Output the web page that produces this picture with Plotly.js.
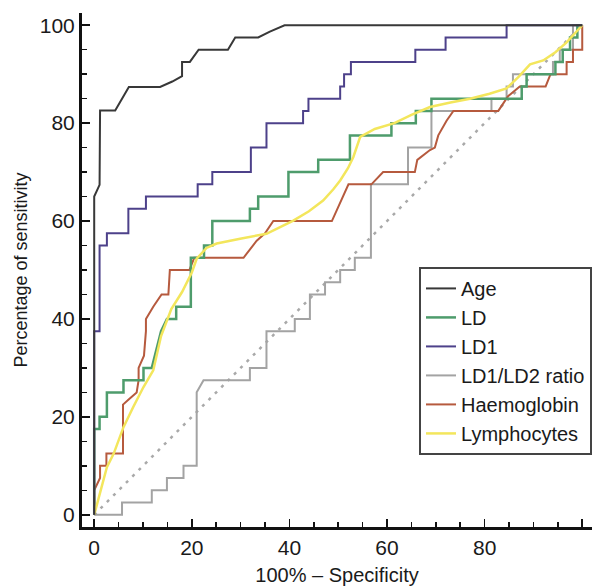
<!DOCTYPE html>
<html>
<head>
<meta charset="utf-8">
<script src="https://cdn.plot.ly/plotly-3.0.1.min.js"></script>
<style>html,body{margin:0;padding:0;background:#fff;}#chart{width:598px;height:586px;}</style>
</head>
<body>
<div id="chart"></div>
<script>
// Reference diagonal
const diagX = [0, 100];
const diagY = [0, 100];

// Age
const ageX = [0, 0, 1.1, 1.2, 4.3, 7.1, 13.5, 16, 18, 18, 19.6, 21.4, 27.4, 28.9, 33.6, 36, 39, 100];
const ageY = [0, 65, 67.4, 82.6, 82.6, 87.4, 87.4, 88.5, 89.6, 92.5, 92.5, 95, 95, 97.5, 97.5, 98.7, 100, 100];

// LD
const ldX = [0, 0, 1.1, 1.1, 2.6, 2.6, 6.0, 6.0, 10.1, 10.1, 11.8, 13.7, 14.9, 16.8, 16.8, 19.8, 19.8, 22.5, 22.5, 24.2, 24.2, 31.9, 31.9, 33.6, 33.6, 39.8, 39.8, 45.9, 45.9, 52.4, 52.4, 60.9, 60.9, 65.9, 65.9, 69.1, 69.1, 87.6, 87.6, 88.6, 88.6, 94.5, 94.5, 96, 96, 97.5, 97.5, 99, 99, 100];
const ldY = [0, 17.5, 17.5, 20, 20, 25, 25, 27.5, 27.5, 30, 30, 37.5, 40, 40, 42.5, 42.5, 52.5, 52.5, 55, 55, 60, 60, 62.5, 62.5, 65, 65, 70, 70, 72.5, 72.5, 77.5, 77.5, 80, 80, 82.5, 82.5, 85, 85, 87.5, 87.5, 90, 90, 92.5, 92.5, 95, 95, 97.5, 97.5, 100, 100];

// LD1
const ld1X = [0, 0, 1.1, 1.1, 2.6, 2.6, 7.0, 7.0, 10.6, 10.6, 21.2, 21.2, 24.2, 24.2, 32.1, 32.1, 35.3, 35.3, 42.8, 42.8, 43.9, 43.9, 50.4, 50.4, 51.2, 51.2, 52.6, 52.6, 65.8, 65.8, 72.0, 72.0, 84.5, 84.5, 100];
const ld1Y = [0, 37.5, 37.5, 55, 55, 57.5, 57.5, 62.5, 62.5, 65, 65, 67.5, 67.5, 70, 70, 75, 75, 80, 80, 82.5, 82.5, 85, 85, 87.5, 87.5, 90, 90, 92.5, 92.5, 95, 95, 97.5, 97.5, 100, 100];

// LD1/LD2 ratio
const ratioX = [0, 5.7, 5.7, 11.8, 11.8, 14.9, 14.9, 18.3, 18.3, 21.0, 21.0, 22.4, 31.9, 31.9, 35.3, 35.3, 41.1, 41.1, 44.2, 44.2, 47.3, 47.3, 50.4, 50.4, 53.4, 53.4, 56.7, 56.7, 64.3, 64.3, 69.1, 69.1, 81.4, 81.4, 84.5, 84.5, 85.8, 85.8, 94.0, 94.0, 95.4, 95.4, 98.1, 98.1, 100];
const ratioY = [0, 0, 2.5, 2.5, 5, 5, 7.5, 7.5, 10, 10, 25, 27.5, 27.5, 30, 30, 37.5, 37.5, 40, 40, 45, 45, 47.5, 47.5, 50, 50, 52.5, 52.5, 67.5, 67.5, 75, 75, 82.5, 82.5, 85, 85, 87.5, 87.5, 90, 90, 92.5, 92.5, 95, 95, 100, 100];

// Haemoglobin
const haemX = [0, 0, 1.2, 1.2, 2.5, 2.5, 5.9, 5.9, 7.0, 8.7, 9.1, 9.1, 10.2, 10.6, 10.6, 12.1, 13.8, 15.2, 15.5, 19.5, 20.5, 30.6, 33.3, 35.0, 36.7, 48.7, 52.1, 56.8, 59.2, 65.7, 66.2, 68.8, 69.8, 70.5, 72.2, 73.6, 82.8, 84.8, 87.2, 92.5, 93.5, 96.8, 96.8, 98.1, 98.1, 100, 100];
const haemY = [0, 5, 7.5, 10, 10, 12.5, 12.5, 22.5, 23.5, 25, 27.5, 30, 32.5, 37.5, 40, 42.5, 45, 45, 50, 50, 52.5, 52.5, 56, 57.5, 60, 60, 67.5, 67.5, 70, 70, 72.5, 74.5, 75, 77.5, 80.5, 82.5, 82.5, 85.5, 87.5, 87.5, 90, 90, 92.5, 92.5, 95, 95, 100];

// Lymphocytes
const lymX = [0, 2.6, 4.0, 6.0, 8.0, 10.1, 12.1, 13.7, 15.8, 18.0, 20.0, 21.0, 23.0, 25.1, 29.9, 35.3, 40.8, 44.0, 46.9, 49.0, 50.4, 52.0, 53.1, 54.5, 57.5, 61.5, 65.0, 68.8, 73.0, 77.0, 81.0, 84.5, 87.0, 89.3, 92.0, 94.5, 96.8, 100];
const lymY = [0, 9.7, 12.5, 17.9, 22, 26.1, 29.5, 36.5, 42.0, 45.5, 49.5, 52.3, 54.5, 55.4, 56.4, 57.4, 60.1, 62.0, 64.2, 66.5, 68.3, 70.8, 73.1, 77.2, 78.8, 80.0, 81.7, 83.3, 84.2, 85.0, 86.0, 87.1, 89.5, 92.0, 92.8, 94.5, 96.5, 100];

const seriesNames = ['Age', 'LD', 'LD1', 'LD1/LD2 ratio', 'Haemoglobin', 'Lymphocytes'];
const xTicks = [0, 20, 40, 60, 80, 100];
const yTicks = [0, 20, 40, 60, 80, 100];

const FONT = 'Liberation Sans, Arial, Helvetica, sans-serif';
const lw = 2;

const traces = [
  {x: diagX, y: diagY, mode: 'lines', showlegend: false, hoverinfo: 'skip',
   line: {color: '#a9a9a9', width: 2.5, dash: '3px,6px'}},
  {x: ratioX, y: ratioY, name: seriesNames[3], mode: 'lines', line: {color: '#a3a3a3', width: lw}},
  {x: haemX, y: haemY, name: seriesNames[4], mode: 'lines', line: {color: '#b65a3e', width: lw}},
  {x: ldX, y: ldY, name: seriesNames[1], mode: 'lines', line: {color: '#4e9c6c', width: 2.5}},
  {x: lymX, y: lymY, name: seriesNames[5], mode: 'lines', line: {color: '#f3e65c', width: 2.5}},
  {x: ld1X, y: ld1Y, name: seriesNames[2], mode: 'lines', line: {color: '#4d418a', width: lw}},
  {x: ageX, y: ageY, name: seriesNames[0], mode: 'lines', line: {color: '#383838', width: lw}}
];

// legend order
const order = {'Age':1,'LD':2,'LD1':3,'LD1/LD2 ratio':4,'Haemoglobin':5,'Lymphocytes':6};
traces.forEach(t => { if (t.name) t.legendrank = order[t.name]; });

const axisCommon = {
  showline: true, linewidth: 3, linecolor: '#111',
  showgrid: false, zeroline: false,
  ticks: 'inside', ticklen: 8, tickwidth: 1.5, tickcolor: '#111',
  tickfont: {family: FONT, size: 21, color: '#1a1a1a'},
  minor: {dtick: 5, ticks: 'inside', ticklen: 5, tickwidth: 1.5, tickcolor: '#111', showgrid: false},
  tickmode: 'array', fixedrange: true
};

const layout = {
  width: 598, height: 586,
  margin: {l: 82, r: 6, t: 13, b: 59},
  paper_bgcolor: '#ffffff', plot_bgcolor: '#ffffff',
  font: {family: FONT, color: '#1a1a1a'},
  showlegend: true,
  legend: {
    x: 1, xanchor: 'right', y: 0.506, yanchor: 'top',
    bgcolor: '#ffffff', bordercolor: '#444444', borderwidth: 2,
    font: {family: FONT, size: 20, color: '#1a1a1a'},
    tracegroupgap: 0, traceorder: 'normal'
  },
  xaxis: Object.assign({}, axisCommon, {
    range: [-2.5, 102], tickvals: xTicks, ticktext: xTicks.map(String),
    title: {text: '100% – Specificity', font: {family: FONT, size: 20, color: '#1a1a1a'}, standoff: 10}
  }),
  yaxis: Object.assign({}, axisCommon, {
    range: [-2.5, 102.5], tickvals: yTicks, ticktext: yTicks.map(String),
    title: {text: 'Percentage of sensitivity', font: {family: FONT, size: 18, color: '#1a1a1a'}, standoff: 8}
  })
};

Plotly.newPlot('chart', traces, layout, {displayModeBar: false, staticPlot: true});
</script>
</body>
</html>
